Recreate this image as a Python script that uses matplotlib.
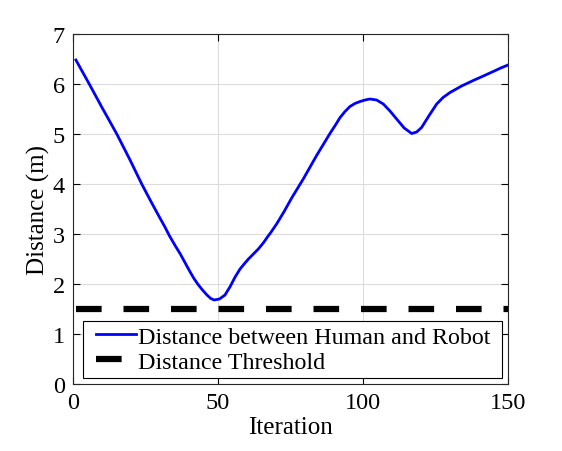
import numpy as np
import matplotlib
matplotlib.use('Agg')
import matplotlib.pyplot as plt
from matplotlib.lines import Line2D
from matplotlib.legend_handler import HandlerLine2D

# 读图得到的曲线数据
iteration = [1, 5.6, 10, 15.1, 19.5, 23.7, 26.6, 29.5, 31.7, 33.2, 35.2, 37.0, 38.6, 40.2,
             41.6, 43.0, 44.5, 46.2, 47.5, 48.7, 50.5, 52.4, 54.2, 55.9, 57.6, 59.3, 60.5,
             62.2, 63.9, 65.6, 67.3, 68.2, 70.2, 72.8, 75.4, 79.4, 84.0, 88.6, 90.5, 92.1,
             93.8, 95.5, 97.2, 99.0, 100.7, 102.4, 104.7, 107.0, 109.3, 111.6, 114.2, 116.8,
             118.5, 120.2, 122.8, 125.4, 127.6, 130.0, 134.0, 138.0, 141.5, 144.9, 147.5, 150]
distance = [6.48, 6.0, 5.53, 5.0, 4.5, 4.0, 3.68, 3.37, 3.14, 2.97, 2.77, 2.6, 2.43, 2.26,
            2.12, 2.0, 1.89, 1.78, 1.71, 1.68, 1.7, 1.78, 1.95, 2.14, 2.3, 2.42, 2.5,
            2.6, 2.7, 2.82, 2.96, 3.03, 3.2, 3.45, 3.72, 4.1, 4.57, 5.01, 5.18, 5.33,
            5.45, 5.55, 5.61, 5.65, 5.68, 5.7, 5.68, 5.6, 5.46, 5.3, 5.12, 5.01, 5.04,
            5.13, 5.37, 5.6, 5.73, 5.83, 5.96, 6.07, 6.16, 6.25, 6.32, 6.38]
threshold = 1.5
x_ticks = [0, 50, 100, 150]
y_ticks = [0, 1, 2, 3, 4, 5, 6, 7]

plt.rcParams['font.family'] = ['Liberation Serif', 'DejaVu Serif']
plt.rcParams['mathtext.fontset'] = 'stix'

fig = plt.figure(figsize=(5.62, 4.52), dpi=100)
ax = fig.add_axes([73 / 562, (452 - 385) / 452, 435 / 562, 350 / 452])

ax.plot(iteration, distance, color='b', lw=2.0, solid_joinstyle='round',
        label='Distance between Human and Robot ')
ax.plot([iteration[0], iteration[-1]], [threshold, threshold], color='k', lw=4.5,
        dashes=(4.1, 3.5), dash_capstyle='butt', label='Distance Threshold')

ax.set_xlim(0, 150)
ax.set_ylim(0, 7)
ax.set_xticks(x_ticks)
ax.set_yticks(y_ticks)
ax.grid(True, color='#dcdcdc', lw=0.8)
ax.set_axisbelow(True)
ax.tick_params(direction='in', top=True, right=True, labelsize=17.5, length=5, pad=6)
for s in ax.spines.values():
    s.set_linewidth(0.8)
    s.set_color('#262626')

ax.set_xlabel('Iteration', fontsize=18, labelpad=2)
ax.set_ylabel('Distance (m)', fontsize=18, labelpad=2)

# 图例：手柄右移一点，留出和原图一样的左边距
leg = ax.legend(loc='lower center', fontsize=17.3, frameon=True, fancybox=False,
                edgecolor='k', framealpha=1, borderpad=0.22, handlelength=1.96,
                handletextpad=0.12, labelspacing=0.13, borderaxespad=0.25,
                bbox_to_anchor=(0.505, 0.0),
                handler_map={Line2D: HandlerLine2D(xpad=0.33)})
leg.get_frame().set_linewidth(0.8)

fig.savefig('out.png', dpi=100)
